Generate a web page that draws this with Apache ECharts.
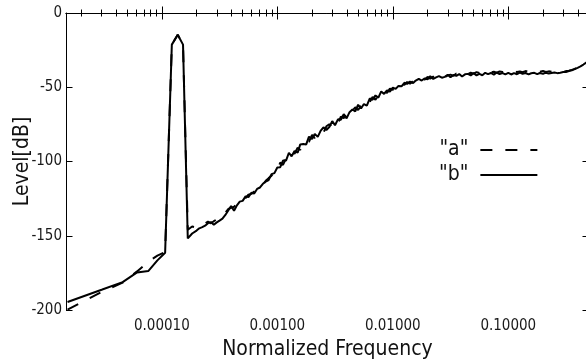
<!DOCTYPE html>
<html>
<head>
<meta charset="utf-8">
<script src="https://cdn.jsdelivr.net/npm/echarts@6/dist/echarts.min.js"></script>
<style>html,body{margin:0;padding:0;background:#fff}#c{width:586px;height:360px}</style>
</head>
<body>
<div id="c"></div>
<script>
// Normalized frequency of each sample
const freq = [
  1.526e-5, 3.052e-5, 4.578e-5, 6.104e-5, 7.629e-5, 9.155e-5, 1.068e-4, 1.221e-4, 1.373e-4, 1.526e-4, 1.678e-4, 1.831e-4,
  2.00e-4, 2.11e-4, 2.24e-4, 2.37e-4, 2.51e-4, 2.66e-4, 2.82e-4, 2.99e-4, 3.16e-4, 3.35e-4, 3.55e-4, 3.76e-4, 3.98e-4, 4.22e-4,
  4.47e-4, 4.73e-4, 5.01e-4, 5.31e-4, 5.62e-4, 5.96e-4, 6.31e-4, 6.68e-4, 7.08e-4, 7.50e-4, 7.94e-4, 8.41e-4, 8.91e-4, 9.44e-4,
  1.00e-3, 1.06e-3, 1.12e-3, 1.19e-3, 1.26e-3, 1.33e-3, 1.41e-3, 1.50e-3, 1.58e-3, 1.68e-3, 1.78e-3, 1.88e-3, 2.00e-3, 2.11e-3,
  2.24e-3, 2.37e-3, 2.51e-3, 2.66e-3, 2.82e-3, 2.99e-3, 3.16e-3, 3.35e-3, 3.55e-3, 3.76e-3, 3.98e-3, 4.22e-3, 4.47e-3, 4.73e-3,
  5.01e-3, 5.31e-3, 5.62e-3, 5.96e-3, 6.31e-3, 6.68e-3, 7.08e-3, 7.50e-3, 7.94e-3, 8.41e-3, 8.91e-3, 9.44e-3,
  1.00e-2, 1.06e-2, 1.12e-2, 1.19e-2, 1.26e-2, 1.33e-2, 1.41e-2, 1.50e-2, 1.58e-2, 1.68e-2, 1.78e-2, 1.88e-2, 2.00e-2, 2.11e-2,
  2.24e-2, 2.37e-2, 2.51e-2, 2.66e-2, 2.82e-2, 2.99e-2, 3.16e-2, 3.35e-2, 3.55e-2, 3.76e-2, 3.98e-2, 4.22e-2, 4.47e-2, 4.73e-2,
  5.01e-2, 5.31e-2, 5.62e-2, 5.96e-2, 6.31e-2, 6.68e-2, 7.08e-2, 7.50e-2, 7.94e-2, 8.41e-2, 8.91e-2, 9.44e-2,
  0.100, 0.106, 0.112, 0.119, 0.126, 0.133, 0.141, 0.150, 0.158, 0.168, 0.178, 0.188, 0.200, 0.211,
  0.224, 0.237, 0.251, 0.266, 0.282, 0.299, 0.316, 0.335, 0.355, 0.376, 0.398, 0.422, 0.447, 0.473, 0.500
];

// Series "a" (dashed), level in dB
const levelA = [
  -199.8, -187.6, -181.6, -174.0, -167.5, -163.4, -161.0, -21.3, -14.6, -21.3, -146.0, -143.8,
  -144.5, -144.0, -143.5, -141.8, -140.5, -141.6, -140.2, -139.0, -138.2, -137.0, -134.5, -132.0, -131.2, -130.5,
  -128.3, -127.8, -125.2, -124.6, -122.4, -121.8, -120.3, -119.0, -116.4, -115.8, -113.0, -111.2, -109.6, -107.0,
  -106.4, -100.7, -102.3, -98.0, -97.1, -93.3, -94.8, -90.8, -92.2, -87.0, -86.6, -86.7, -82.1, -84.3,
  -80.6, -80.6, -80.6, -76.3, -74.9, -76.3, -73.0, -74.6, -69.8, -70.8, -67.7, -69.3, -65.7, -63.5,
  -65.3, -62.4, -62.7, -58.9, -60.0, -56.6, -58.4, -54.9, -55.1, -52.1, -53.9, -50.9,
  -51.7, -49.6, -50.5, -48.0, -48.4, -46.5, -47.6, -45.8, -46.2, -44.2, -44.6, -45.0, -43.0, -44.2,
  -42.9, -43.6, -42.9, -42.0, -43.2, -42.0, -41.5, -42.3, -40.8, -41.6, -40.8, -40.3, -41.2, -40.2,
  -40.8, -39.8, -40.4, -39.9, -40.5, -39.4, -40.0, -39.6, -40.2, -39.4, -39.8, -39.6,
  -39.5, -40.0, -39.2, -39.8, -39.4, -39.9, -39.1, -39.7, -39.3, -40.0, -39.4, -39.5, -39.1, -39.7,
  -39.3, -39.5, -39.2, -39.5, -39.3, -39.3, -39.1, -38.8, -38.3, -37.6, -36.7, -35.8, -34.7, -33.4, -32.5
];

// Series "b" (solid), level in dB
const levelB = [
  -194.6, -186.2, -181.2, -174.7, -173.8, -166.6, -161.4, -21.3, -14.6, -21.3, -151.8, -148.5,
  -146.5, -145.0, -144.2, -143.2, -141.5, -140.8, -142.6, -141.0, -139.8, -138.5, -136.0, -133.0, -130.0, -133.2,
  -129.5, -127.0, -126.5, -123.5, -124.0, -121.0, -121.5, -118.5, -117.5, -115.0, -113.5, -112.5, -108.5, -107.8,
  -104.0, -103.8, -99.4, -99.4, -94.1, -96.5, -93.0, -94.1, -88.5, -88.2, -88.5, -83.3, -84.9, -81.4,
  -83.4, -79.4, -77.0, -78.8, -76.8, -72.8, -75.6, -71.6, -71.9, -68.1, -71.0, -66.8, -65.0, -66.2,
  -61.8, -64.3, -61.3, -62.4, -57.6, -58.4, -55.5, -57.0, -52.8, -54.5, -52.1, -53.0,
  -50.2, -51.1, -49.1, -49.4, -47.0, -47.7, -46.2, -47.2, -45.5, -44.3, -45.5, -44.1, -44.6, -42.6,
  -44.4, -43.3, -42.5, -43.6, -43.0, -41.6, -43.3, -41.7, -42.3, -41.1, -42.8, -41.3, -41.0, -42.0,
  -40.5, -42.0, -41.0, -41.9, -40.3, -41.2, -40.4, -41.5, -40.1, -41.2, -40.5, -41.3,
  -40.3, -41.4, -40.5, -41.2, -40.2, -41.0, -40.4, -41.3, -40.6, -40.3, -41.2, -40.4, -41.0, -40.2,
  -40.8, -40.4, -40.1, -40.5, -40.2, -39.7, -39.7, -39.1, -38.6, -37.8, -36.9, -35.9, -34.7, -33.4, -32.5
];

const seriesNames = ['"a"', '"b"'];
const xRange = [1.48e-5, 0.5];
const xTickValues = [1e-4, 1e-3, 1e-2, 1e-1];
const xTickLabels = ['0.00010', '0.00100', '0.01000', '0.10000'];
const yTicks = [-200, -150, -100, -50, 0];
const xTitle = 'Normalized Frequency';
const yTitle = 'Level[dB]';

const FONT = "'DejaVu Sans Condensed','DejaVu Sans',sans-serif";
const lg = Math.log10;
const xMin = lg(xRange[0]), xMax = lg(xRange[1]);
const majorX = xTickValues.map(lg);
const minorX = [];
for (let d = -5; d <= -1; d++) {
  for (let k = 2; k <= 9; k++) {
    const v = lg(k * Math.pow(10, d));
    if (v > xMin && v < xMax) minorX.push(v);
  }
}
const labelMap = {};
majorX.forEach((v, i) => { labelMap[v.toFixed(3)] = xTickLabels[i]; });

const labelStyle = { color: '#1a1a1a', fontFamily: FONT, fontSize: 15 };
const axisLine = { show: true, lineStyle: { color: '#000', width: 1 } };
function xAx(pos, ticks, len, showLine, showLabel) {
  return {
    type: 'value', position: pos, min: xMin, max: xMax,
    splitLine: { show: false },
    axisLine: showLine ? axisLine : { show: false },
    axisTick: { show: true, inside: true, length: len, customValues: ticks, lineStyle: { color: '#000', width: 1 } },
    axisLabel: showLabel ? Object.assign({
      show: true, customValues: majorX, margin: 9,
      formatter: v => labelMap[Number(v).toFixed(3)] || ''
    }, labelStyle) : { show: false },
    name: showLabel ? xTitle : '',
    nameLocation: 'middle', nameGap: 29, nameMoveOverlap: false,
    nameTextStyle: { color: '#111', fontFamily: FONT, fontSize: 21 }
  };
}
function yAx(pos, showLabel) {
  return {
    type: 'value', position: pos, min: -200, max: 0, interval: 50,
    splitLine: { show: false },
    axisLine: axisLine,
    axisTick: { show: true, inside: true, length: 6.5, lineStyle: { color: '#000', width: 1 } },
    axisLabel: showLabel ? Object.assign({ show: true, margin: 4, customValues: yTicks }, labelStyle) : { show: false },
    name: showLabel ? yTitle : '',
    nameLocation: 'middle', nameGap: 33, nameMoveOverlap: false,
    nameTextStyle: { color: '#111', fontFamily: FONT, fontSize: 21 }
  };
}

const chart = echarts.init(document.getElementById('c'), null, { renderer: 'canvas' });
chart.setOption({
  animation: false,
  backgroundColor: '#fff',
  textStyle: { fontFamily: FONT, fontSize: 15, color: '#1a1a1a' },
  grid: { left: 66, top: 13, width: 523, height: 297, containLabel: false, outerBoundsMode: 'none' },
  xAxis: [
    xAx('bottom', majorX, 6.5, true, true),
    xAx('bottom', minorX, 3.5, false, false),
    xAx('top', majorX, 6.5, true, false),
    xAx('top', minorX, 3.5, false, false)
  ],
  yAxis: [yAx('left', true), yAx('right', false)],
  legend: {
    show: true, orient: 'vertical', align: 'right',
    left: 434, top: 134, itemWidth: 57, itemHeight: 14, itemGap: 3,
    data: seriesNames,
    itemStyle: { opacity: 0 },
    textStyle: { color: '#111', fontFamily: FONT, fontSize: 21, lineHeight: 22, padding: [0, 7, 0, 0] }
  },
  series: [
    {
      name: seriesNames[0], type: 'line', xAxisIndex: 0, yAxisIndex: 0, symbol: 'none',
      data: freq.map((f, i) => [lg(f), levelA[i]]),
      lineStyle: { color: '#000', width: 2, type: [12, 13] }, itemStyle: { color: '#000' }
    },
    {
      name: seriesNames[1], type: 'line', xAxisIndex: 0, yAxisIndex: 0, symbol: 'none',
      data: freq.map((f, i) => [lg(f), levelB[i]]),
      lineStyle: { color: '#000', width: 2, type: 'solid' }, itemStyle: { color: '#000' }
    }
  ]
});
</script>
</body>
</html>
